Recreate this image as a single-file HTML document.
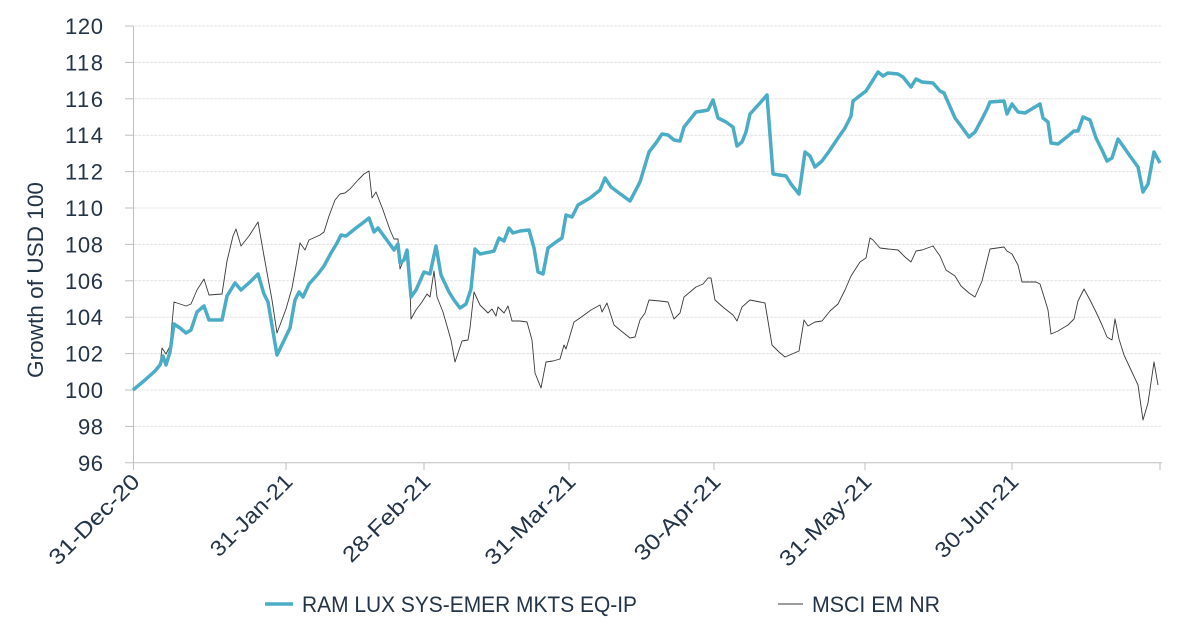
<!DOCTYPE html>
<html><head><meta charset="utf-8"><style>
html,body{margin:0;padding:0;background:#fff;}
svg{display:block;font-family:"Liberation Sans",sans-serif;}
</style></head><body>
<svg width="1200" height="629" viewBox="0 0 1200 629" xmlns="http://www.w3.org/2000/svg">
<g stroke="#e3e3e3" stroke-width="1" stroke-dasharray="3,1">
<line x1="134" x2="1162" y1="26" y2="26"/><line x1="134" x2="1162" y1="62.4" y2="62.4"/>
<line x1="134" x2="1162" y1="98.8" y2="98.8"/><line x1="134" x2="1162" y1="135.2" y2="135.2"/>
<line x1="134" x2="1162" y1="171.6" y2="171.6"/><line x1="134" x2="1162" y1="208" y2="208"/>
<line x1="134" x2="1162" y1="244.4" y2="244.4"/><line x1="134" x2="1162" y1="280.8" y2="280.8"/>
<line x1="134" x2="1162" y1="317.2" y2="317.2"/><line x1="134" x2="1162" y1="353.6" y2="353.6"/>
<line x1="134" x2="1162" y1="390" y2="390"/><line x1="134" x2="1162" y1="426.4" y2="426.4"/>
</g>
<g stroke="#bfbfbf" stroke-width="1">
<line x1="133.5" x2="133.5" y1="26" y2="470"/>
<line x1="125" x2="1162" y1="462.8" y2="462.8"/>
<line x1="125" x2="133" y1="26" y2="26"/><line x1="125" x2="133" y1="62.4" y2="62.4"/><line x1="125" x2="133" y1="98.8" y2="98.8"/><line x1="125" x2="133" y1="135.2" y2="135.2"/><line x1="125" x2="133" y1="171.6" y2="171.6"/><line x1="125" x2="133" y1="208" y2="208"/><line x1="125" x2="133" y1="244.4" y2="244.4"/><line x1="125" x2="133" y1="280.8" y2="280.8"/><line x1="125" x2="133" y1="317.2" y2="317.2"/><line x1="125" x2="133" y1="353.6" y2="353.6"/><line x1="125" x2="133" y1="390" y2="390"/><line x1="125" x2="133" y1="426.4" y2="426.4"/>
<line x1="286" x2="286" y1="463" y2="470"/><line x1="424" x2="424" y1="463" y2="470"/><line x1="569" x2="569" y1="463" y2="470"/><line x1="714" x2="714" y1="463" y2="470"/><line x1="865" x2="865" y1="463" y2="470"/><line x1="1012" x2="1012" y1="463" y2="470"/><line x1="1160" x2="1160" y1="463" y2="470"/>
</g>
<g fill="#243447" font-size="22" text-anchor="end" lengthAdjust="spacingAndGlyphs">
<text x="103" y="34" textLength="38">120</text><text x="103" y="70.4" textLength="38">118</text><text x="103" y="106.8" textLength="38">116</text><text x="103" y="143.2" textLength="38">114</text><text x="103" y="179.6" textLength="38">112</text><text x="103" y="216" textLength="38">110</text><text x="103" y="252.4" textLength="38">108</text><text x="103" y="288.8" textLength="38">106</text><text x="103" y="325.2" textLength="38">104</text><text x="103" y="361.6" textLength="38">102</text><text x="103" y="398" textLength="38">100</text><text x="103" y="434.4" textLength="25">98</text><text x="103" y="470.8" textLength="25">96</text>
</g>
<text transform="translate(43,280) rotate(-90)" text-anchor="middle" fill="#243447" font-size="22" textLength="196" lengthAdjust="spacingAndGlyphs">Growth of USD 100</text>
<g fill="#243447" font-size="22" text-anchor="end">
<text transform="translate(141,483) rotate(-45)" textLength="118" lengthAdjust="spacingAndGlyphs">31-Dec-20</text>
<text transform="translate(294,483) rotate(-45)" textLength="106" lengthAdjust="spacingAndGlyphs">31-Jan-21</text>
<text transform="translate(432,483) rotate(-45)" textLength="114" lengthAdjust="spacingAndGlyphs">28-Feb-21</text>
<text transform="translate(577,483) rotate(-45)" textLength="118" lengthAdjust="spacingAndGlyphs">31-Mar-21</text>
<text transform="translate(722,483) rotate(-45)" textLength="112" lengthAdjust="spacingAndGlyphs">30-Apr-21</text>
<text transform="translate(873,483) rotate(-45)" textLength="120" lengthAdjust="spacingAndGlyphs">31-May-21</text>
<text transform="translate(1020,483) rotate(-45)" textLength="108" lengthAdjust="spacingAndGlyphs">30-Jun-21</text>
</g>
<polyline fill="none" stroke="#3a3a3a" stroke-width="0.9" stroke-linejoin="round" points="133,390 145,380 155,371 160,365 162,348 166,354 170,346 174,302 186,306 191,304 197,290 204,279 209,295 222,294 227,261 233,236 236,229 241,246 249,236 258,222 264,256 272,300 277,333 286,309 292,288 296,266 300,243 305,250 309,240 320,235 324,232 329,216 335,200 340,194 345,193 350,189 358,180 364,174 369,171 372,198 376,192 383,210 390,230 394,239 398,239 400,269 404,259 406,252 409,258 411,319 416,310 422,302 427,294 430,297 434,271 437,297 443,312 451,340 455,362 462,341 468,340 470,328 474,292 480,305 488,313 492,309 496,316 498,307 504,313 508,306 512,321 520,321 527,322 532,340 535,373 541,388 546,362 553,361 560,359 564,345 566,349 574,322 580,318 591,310 600,305 602,312 607,303 614,325 620,330 630,338 635,337 640,320 645,313 649,300 660,301 668,302 674,319 680,313 684,297 696,287 703,284 708,278 711,278 715,300 724,308 733,315 737,321 742,307 750,300 760,302 765,303 772,345 779,352 785,357 799,351 804,320 808,326 815,322 822,321 830,311 838,304 845,290 851,276 860,262 866,258 870,238 873,240 880,248 888,249 898,250 905,257 911,262 916,251 922,250 933,246 940,256 946,270 955,276 961,286 969,293 975,297 982,281 987,261 990,249 1004,247 1007,251 1012,254 1018,265 1022,282 1036,282 1040,284 1045,300 1048,310 1051,334 1058,331 1068,325 1074,319 1078,301 1084,289 1090,300 1096,312 1102,325 1107,337 1112,340 1115,319 1119,339 1124,355 1131,370 1138,385 1143,420 1148,403 1154,362 1158,385"/>
<polyline fill="none" stroke="#4bacc6" stroke-width="3.5" stroke-linejoin="round" points="133,390 145,380 155,371 160,365 163,356 166,365 170,352 174,324 180,328 186,333 191,330 197,312 204,306 209,320 222,320 227,296 235,283 241,290 250,282 258,274 264,294 268,302 277,355 290,328 295,300 299,292 303,297 309,284 318,274 324,266 331,253 337,243 341,235 346,236 356,228 364,222 369,218 374,232 378,228 389,243 394,250 398,244 400,263 404,260 407,250 411,297 416,290 424,272 430,274 436,246 441,275 449,292 454,300 460,308 466,304 471,289 475,249 480,254 490,252 494,251 499,238 504,241 509,228 513,233 520,231 529,230 534,248 538,272 543,274 548,248 556,242 562,238 566,215 572,217 578,205 590,198 600,190 605,178 611,187 619,193 630,201 640,182 649,152 656,143 662,134 668,135 674,140 680,141 684,127 696,112 703,111 708,110 713,100 718,118 726,122 733,127 737,146 742,142 746,132 750,114 760,103 767,95 773,174 786,176 791,184 799,194 805,152 810,156 815,167 822,161 830,150 838,138 845,128 851,116 853,101 866,91 873,80 878,72 883,76 888,73 898,74 903,77 911,87 916,79 922,82 933,83 940,91 944,93 955,118 961,126 969,137 975,132 982,119 987,109 990,102 1004,101 1007,114 1012,104 1018,112 1025,113 1040,104 1043,118 1048,122 1051,143 1058,144 1068,136 1074,131 1078,131 1083,117 1090,120 1096,138 1102,150 1107,161 1112,158 1118,139 1123,146 1130,156 1138,167 1143,192 1148,184 1154,152 1160,163"/>
<line x1="265" x2="293" y1="604" y2="604" stroke="#4bacc6" stroke-width="3.5"/>
<text x="302" y="612" fill="#243447" font-size="22" textLength="335" lengthAdjust="spacingAndGlyphs">RAM LUX SYS-EMER MKTS EQ-IP</text>
<line x1="778" x2="803" y1="604" y2="604" stroke="#3a3a3a" stroke-width="1"/>
<text x="812" y="612" fill="#243447" font-size="22" textLength="128" lengthAdjust="spacingAndGlyphs">MSCI EM NR</text>
</svg>
</body></html>
